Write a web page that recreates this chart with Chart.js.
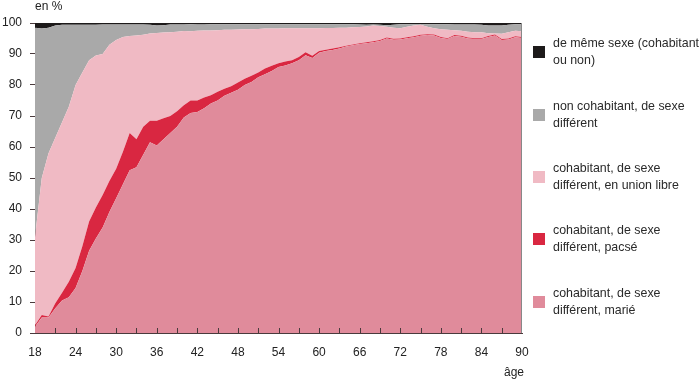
<!DOCTYPE html>
<html>
<head>
<meta charset="utf-8">
<script src="https://cdn.jsdelivr.net/npm/chart.js@4.4.0/dist/chart.umd.min.js"></script>
<style>
  html, body { margin: 0; padding: 0; background: #fff; }
  #wrap { position: relative; width: 700px; height: 381px; font-family: "Liberation Sans", Arial, sans-serif; color: #222; }
  #chart { position: absolute; left: 0; top: 0; }
  .txt { position: absolute; font-size: 12px; white-space: nowrap; }
  .item { position: absolute; left: 533px; width: 167px; height: 34px; }
  .item .sq { position: absolute; left: 0; top: 11px; width: 12px; height: 12px; }
  .item .lb { position: absolute; left: 20px; top: 0; font-size: 12.4px; line-height: 17px; white-space: nowrap; color: #2a2a2a; }
</style>
</head>
<body>
<div id="wrap">
  <canvas id="chart" width="700" height="381"></canvas>
  <div class="txt" style="left:35px; top:-1px;">en %</div>
  <div class="txt" style="left:504px; top:365px;">âge</div>
  <div id="legend"></div>
</div>
<script>
const ages = [18, 19, 20, 21, 22, 23, 24, 25, 26, 27,
  28, 29, 30, 31, 32, 33, 34, 35, 36, 37,
  38, 39, 40, 41, 42, 43, 44, 45, 46, 47,
  48, 49, 50, 51, 52, 53, 54, 55, 56, 57,
  58, 59, 60, 61, 62, 63, 64, 65, 66, 67,
  68, 69, 70, 71, 72, 73, 74, 75, 76, 77,
  78, 79, 80, 81, 82, 83, 84, 85, 86, 87,
  88, 89, 90];

// part of each age group, in %, bottom to top
const marie = [2, 5, 5, 8, 10.5, 11.5, 14.5, 20, 26.5, 30.5,
  34, 39, 43.5, 48, 52.5, 53.5, 57.5, 61.5, 60.5, 62.5,
  64.5, 66.5, 69.5, 71, 71.3, 72.5, 74, 75, 76.5, 77.5,
  78.5, 80, 81, 82.5, 83.5, 84.5, 85.8, 86.3, 87, 88,
  89.6, 88.7, 90.4, 91, 91.3, 91.8, 92.4, 92.8, 93.2, 93.5,
  93.8, 94.2, 95, 94.6, 94.7, 95.1, 95.4, 95.9, 96.1, 96,
  95.2, 94.8, 95.8, 95.6, 95, 94.8, 94.8, 95.5, 96, 94.5,
  94.7, 95.4, 95.2];
const pacse = [0.5, 0.8, 0.3, 1.6, 2.5, 5, 6.5, 8, 9.5, 10,
  10.5, 10, 9.5, 10.5, 12, 9, 9, 7, 8, 6.8,
  5.5, 5, 4, 4, 3.7, 3.5, 2.7, 2.8, 2.3, 2.1,
  2.3, 2, 2, 1.5, 1.8, 1.7, 1.2, 1.3, 1, 1,
  1, 0.7, 0.6, 0.4, 0.5, 0.4, 0.3, 0.3, 0.3, 0.3,
  0.3, 0.3, 0.3, 0.3, 0.3, 0.3, 0.3, 0.3, 0.3, 0.3,
  0.3, 0.3, 0.3, 0.3, 0.3, 0.3, 0.3, 0.3, 0.3, 0.3,
  0.3, 0.3, 0.3];
const unionLibre = [28.5, 44.2, 52.7, 53.4, 55, 56.5, 59, 56, 52, 49,
  45.5, 44, 41.5, 37, 31.3, 33.5, 29.7, 28.1, 28.3, 27.6,
  27, 25.7, 23.9, 22.3, 22.5, 21.6, 20.9, 19.9, 19, 18.2,
  17.1, 16, 15, 14.1, 12.9, 12, 11.2, 10.7, 10.3, 9.3,
  7.7, 8.9, 7.3, 7, 6.6, 6.3, 5.8, 5.5, 5.2, 5.1,
  5.1, 4.5, 3.5, 3.6, 3.3, 3.4, 3.5, 3.2, 2.4, 2,
  2.5, 2.7, 1.6, 1.6, 1.9, 1.9, 1.9, 0.9, 0.3, 1.7,
  2, 1.8, 1.8];
const nonCohab = [67.5, 48.2, 40.5, 36.2, 31.4, 26.4, 19.4, 15.4, 11.4, 9.9,
  9.5, 6.5, 5, 4, 3.7, 3.5, 3.3, 2.8, 2.4, 2.4,
  2.5, 2.3, 2.1, 2.3, 2, 1.9, 2, 1.9, 1.8, 1.8,
  1.7, 1.6, 1.6, 1.5, 1.4, 1.4, 1.4, 1.3, 1.3, 1.3,
  1.3, 1.3, 1.3, 1.2, 1.2, 1.1, 1.1, 1, 0.8, 0.5,
  0.3, 0.4, 0.5, 0.9, 1.3, 0.8, 0.4, 0.2, 0.8, 1.3,
  1.6, 1.8, 1.8, 2, 2.3, 2.5, 2.4, 2.5, 2.6, 2.7,
  2.4, 2.1, 2.3];
const memeSexe = [1.5, 1.8, 1.5, 0.8, 0.6, 0.6, 0.6, 0.6, 0.6, 0.6,
  0.5, 0.5, 0.5, 0.5, 0.5, 0.5, 0.5, 0.6, 0.8, 0.7,
  0.5, 0.5, 0.5, 0.5, 0.5, 0.5, 0.4, 0.4, 0.4, 0.4,
  0.4, 0.4, 0.4, 0.4, 0.4, 0.4, 0.4, 0.4, 0.4, 0.4,
  0.4, 0.4, 0.4, 0.4, 0.4, 0.4, 0.4, 0.4, 0.5, 0.6,
  0.5, 0.6, 0.7, 0.6, 0.4, 0.4, 0.4, 0.4, 0.4, 0.4,
  0.4, 0.4, 0.5, 0.5, 0.5, 0.5, 0.6, 0.8, 0.8, 0.8,
  0.6, 0.4, 0.4];

const series = [
  { label: "cohabitant, de sexe|différent, marié", data: marie, color: "#e08b9b" },
  { label: "cohabitant, de sexe|différent, pacsé", data: pacse, color: "#d92741" },
  { label: "cohabitant, de sexe|différent, en union libre", data: unionLibre, color: "#f0bac4" },
  { label: "non cohabitant, de sexe|différent", data: nonCohab, color: "#a9a9a9" },
  { label: "de même sexe (cohabitant|ou non)", data: memeSexe, color: "#1d1a1a" }
];

// legend, top to bottom (reverse of stacking order)
const legendTops = [35, 98, 160, 222, 285];
const legend = document.getElementById("legend");
series.slice().reverse().forEach((s, i) => {
  const d = document.createElement("div");
  d.className = "item";
  d.style.top = legendTops[i] + "px";
  d.innerHTML = '<div class="sq" style="background:' + s.color + '"></div>' +
    '<div class="lb">' + s.label.replace("|", "<br>") + '</div>';
  legend.appendChild(d);
});

// x ticks are drawn inside the plot, plus the right edge line
const innerTicks = {
  id: "innerTicks",
  afterDatasetsDraw(chart) {
    const { ctx, chartArea, scales } = chart;
    ctx.save();
    ctx.strokeStyle = "#4a3a3c";
    ctx.lineWidth = 1;
    ctx.beginPath();
    for (let a = 21; a < 90; a += 3) {
      const x = Math.round(scales.x.getPixelForValue(a)) + 0.5;
      ctx.moveTo(x, chartArea.bottom);
      ctx.lineTo(x, chartArea.bottom - 5);
    }
    ctx.stroke();
    ctx.strokeStyle = "#888";
    ctx.beginPath();
    ctx.moveTo(Math.round(chartArea.right) - 0.5, chartArea.top);
    ctx.lineTo(Math.round(chartArea.right) - 0.5, chartArea.bottom);
    ctx.stroke();
    ctx.restore();
  }
};

const ctx = document.getElementById("chart").getContext("2d");
new Chart(ctx, {
  type: "line",
  data: {
    datasets: series.map((s, i) => ({
      label: s.label,
      data: ages.map((a, j) => ({ x: a, y: s.data[j] })),
      backgroundColor: s.color,
      borderWidth: 0,
      pointRadius: 0,
      tension: 0,
      fill: i === 0 ? "origin" : "-1"
    }))
  },
  options: {
    responsive: false,
    animation: false,
    layout: { padding: { top: 23, right: 178, left: 0, bottom: 0 } },
    plugins: { legend: { display: false }, tooltip: { enabled: false } },
    scales: {
      x: {
        type: "linear",
        min: 18,
        max: 90,
        border: { color: "#4a3a3c", width: 1 },
        grid: { display: false, drawTicks: false },
        ticks: {
          stepSize: 6,
          padding: 12,
          color: "#222",
          font: { family: "Liberation Sans", size: 12 },
          maxRotation: 0,
          autoSkip: false
        },
        afterFit: (scale) => { scale.height = 48; }
      },
      y: {
        stacked: true,
        min: 0,
        max: 100,
        border: { color: "#4a3a3c", width: 1 },
        grid: { drawOnChartArea: false, tickLength: 5, color: "#4a3a3c" },
        ticks: {
          stepSize: 10,
          padding: 8,
          color: "#222",
          font: { family: "Liberation Sans", size: 12 }
        },
        afterFit: (scale) => { scale.width = 35; }
      }
    }
  },
  plugins: [innerTicks]
});
</script>
</body>
</html>
